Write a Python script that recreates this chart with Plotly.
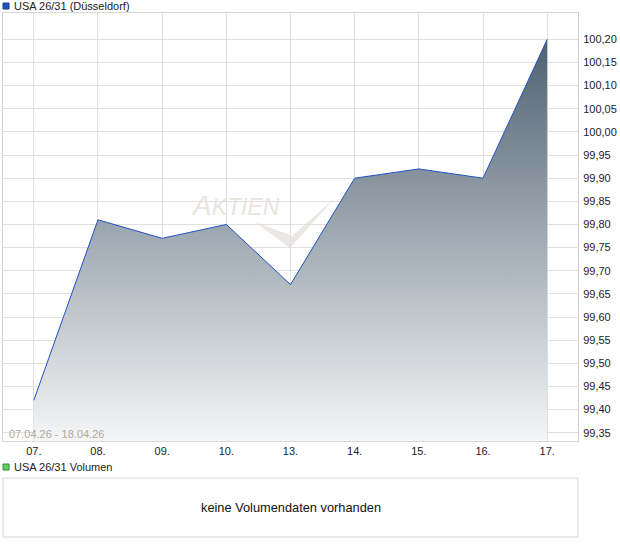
import plotly.graph_objects as go

categories = ["07.", "08.", "09.", "10.", "13.", "14.", "15.", "16.", "17."]
prices = [99.42, 99.81, 99.77, 99.80, 99.67, 99.90, 99.92, 99.90, 100.20]
ytick_vals = [99.35, 99.40, 99.45, 99.50, 99.55, 99.60, 99.65, 99.70, 99.75,
              99.80, 99.85, 99.90, 99.95, 100.00, 100.05, 100.10, 100.15, 100.20]

W, H = 620, 546
ML, MR, MT, MB = 3, 42, 13, 9
PW = W - ML - MR
PH = H - MT - MB

def px(x):
    return (x - ML) / PW

def py(y):
    return (H - MB - y) / PH

y_lo, y_hi = 99.332, 100.257

fig = go.Figure()
fig.add_trace(go.Scatter(
    x=categories, y=prices, mode="lines",
    line=dict(color="#1f52c4", width=1),
    fill="tozeroy",
    fillgradient=dict(type="vertical", start=y_lo, stop=100.20,
                      colorscale=[[0, "#f5f6f7"], [1, "#4e6170"]]),
    hoverinfo="skip", showlegend=False,
))

grid = "#e0e0e0"
fig.update_layout(
    width=W, height=H,
    margin=dict(l=ML, r=MR, t=MT, b=MB, autoexpand=False),
    paper_bgcolor="white", plot_bgcolor="white",
    separators=",.",
    font=dict(family="Liberation Sans, Arial, sans-serif", size=11, color="#222"),
    xaxis=dict(
        type="category", range=[-0.48, 8.48],
        showgrid=True, gridcolor=grid, gridwidth=1,
        showline=True, linecolor="#d8d8d8", mirror=True,
        ticks="", tickfont=dict(size=11, color="#222"),
        domain=[0, 1], anchor="y", fixedrange=True, automargin=False,
    ),
    yaxis=dict(
        side="right", range=[y_lo, y_hi],
        tickvals=ytick_vals, tickformat=".2f",
        showgrid=True, gridcolor=grid, gridwidth=1,
        showline=True, linecolor="#cfcfcf", mirror=True,
        ticks="outside", ticklen=2, tickcolor="rgba(0,0,0,0)",
        tickfont=dict(size=11, color="#222"),
        domain=[py(441), 1], anchor="x", zeroline=False, fixedrange=True,
        automargin=False,
    ),
)

shapes = []
# volume panel box
shapes.append(dict(type="rect", xref="paper", yref="paper",
                   x0=0, x1=1, y0=0, y1=py(478),
                   line=dict(color="#d8d8d8", width=1), fillcolor="rgba(0,0,0,0)"))
# legend squares
shapes.append(dict(type="rect", xref="paper", yref="paper",
                   x0=px(3), x1=px(9), y0=py(9), y1=py(3),
                   line=dict(color="#1a3a8a", width=1), fillcolor="#1f52c4"))
shapes.append(dict(type="rect", xref="paper", yref="paper",
                   x0=px(3), x1=px(9), y0=py(470), y1=py(464),
                   line=dict(color="#2f8a2f", width=1), fillcolor="#5fcf5f"))
# watermark checkmark
shapes.append(dict(type="path", xref="paper", yref="paper", layer="below",
                   path=(f"M {px(255)} {py(222)} L {px(290)} {py(248)} "
                         f"L {px(335)} {py(198)} L {px(292)} {py(236)} Z"),
                   line=dict(width=0), fillcolor="#ebe7e2"))
fig.update_layout(shapes=shapes)

annotations = [
    dict(text="USA 26/31 (Düsseldorf)", xref="paper", yref="paper",
         x=px(12), y=py(6), xanchor="left", yanchor="middle", showarrow=False,
         font=dict(size=11, color="#222")),
    dict(text="USA 26/31 Volumen", xref="paper", yref="paper",
         x=px(12), y=py(467), xanchor="left", yanchor="middle", showarrow=False,
         font=dict(size=11, color="#222")),
    dict(text="keine Volumendaten vorhanden", xref="paper", yref="paper",
         x=px(291), y=py(507), xanchor="center", yanchor="middle", showarrow=False,
         font=dict(size=12.8, color="#111")),
    dict(text="07.04.26 - 18.04.26", xref="paper", yref="paper",
         x=px(7), y=py(434), xanchor="left", yanchor="middle", showarrow=False,
         font=dict(size=11, color="#b3a898")),
    dict(text="<i>A<span style='font-size:23px'>KTIEN</span></i>", xref="paper", yref="paper",
         x=px(189), y=py(205), xanchor="left", yanchor="middle", showarrow=False,
         font=dict(size=28, color="#e8e4df")),
]
fig.update_layout(annotations=annotations)

fig.write_html("out.html", config={"displayModeBar": False},
               post_script="document.body.style.margin='0px';")
